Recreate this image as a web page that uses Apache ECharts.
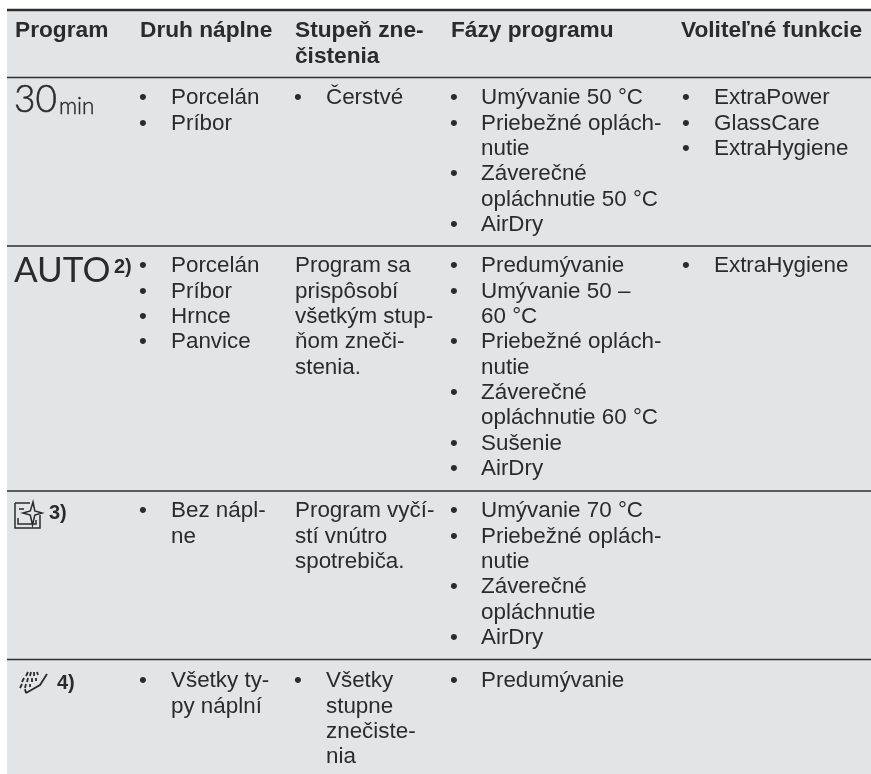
<!DOCTYPE html>
<html><head><meta charset="utf-8">
<style>html,body{margin:0;padding:0;background:#fff}#c{width:871px;height:774px}</style>
<script src="https://cdn.jsdelivr.net/npm/echarts@6/dist/echarts.min.js"></script>
</head><body><div id="c"></div>
<script>
// Table content
const headers = [["Program"],["Druh náplne"],["Stupeň zne-","čistenia"],["Fázy programu"],["Voliteľné funkcie"]];
// Each cell: list of entries; an entry is a bulleted item (array of lines), a plain string is an unbulleted line.
const loads = [
  [["Porcelán"],["Príbor"]],
  [["Porcelán"],["Príbor"],["Hrnce"],["Panvice"]],
  [["Bez nápl-","ne"]],
  [["Všetky ty-","py náplní"]]
];
const soils = [
  [["Čerstvé"]],
  ["Program sa","prispôsobí","všetkým stup-","ňom zneči-","stenia."],
  ["Program vyčí-","stí vnútro","spotrebiča."],
  [["Všetky","stupne","znečiste-","nia"]]
];
const phases = [
  [["Umývanie 50 °C"],["Priebežné oplách-","nutie"],["Záverečné","opláchnutie 50 °C"],["AirDry"]],
  [["Predumývanie"],["Umývanie 50 –","60 °C"],["Priebežné oplách-","nutie"],["Záverečné","opláchnutie 60 °C"],["Sušenie"],["AirDry"]],
  [["Umývanie 70 °C"],["Priebežné oplách-","nutie"],["Záverečné","opláchnutie"],["AirDry"]],
  [["Predumývanie"]]
];
const options = [
  [["ExtraPower"],["GlassCare"],["ExtraHygiene"]],
  [["ExtraHygiene"]],
  [],
  []
];
const footnotes = ["", "2)", "3)", "4)"];

// Layout
const W = 871, H = 774, FONT = '"Liberation Sans", Arial, sans-serif', INK = '#2b2b2b';
const LEFT = 7, TOP = 9.5;
const ruleY = [10, 77.5, 246, 491, 659.5];
const firstLineY = [98, 266, 511, 681];
const PITCH = 25.35, SIZE = 22.4;
const colX = [15, 140, 295, 451, 681], textX = [15, 171, 326, 481, 714], bulletX = [15, 139, 294, 450, 682];

const texts = [];
const put = (x, y, t, o) => texts.push(Object.assign({ value: [x, y], t }, o || {}));
headers.forEach((h, c) => h.forEach((l, i) => put(colX[c], 31 + i * 26, l, { bold: 1, size: 22.7 })));
[loads, soils, phases, options].forEach((col, ci) => {
  const c = ci + 1;
  col.forEach((cell, r) => {
    let n = 0;
    cell.forEach(entry => {
      if (typeof entry === 'string') { put(colX[c], firstLineY[r] + n * PITCH, entry); n++; return; }
      entry.forEach((l, i) => {
        if (i === 0) put(bulletX[c], firstLineY[r] + n * PITCH, '•');
        put(textX[c], firstLineY[r] + n * PITCH, l);
        n++;
      });
    });
  });
});
// Program column labels
const THIN = 'Lato, "Open Sans", sans-serif';
put(14, 100, '30', { font: THIN, size: 37, weight: 300, sw: 0.5 });
put(59, 107, 'min', { font: THIN, size: 22.5, weight: 300, sw: 0.4 });
put(14, 271, 'AUTO', { font: THIN, size: 35, weight: 400 });
put(114, 267, footnotes[1], { bold: 1, size: 20 });
put(49, 513, footnotes[2], { bold: 1, size: 20 });
put(57, 683, footnotes[3], { bold: 1, size: 20 });

// Icon outlines (cleaning box with star, spray arm)
const iconBox = 'M1 1 H16 M1 1 V26 H26 V13 M5 7 H10 M4 16 V22 H22 V18 M19 0 L20.8 9 L28 11 L20.8 13 L18.5 23 L16.3 13 L9 11 L16.3 9 Z';
const iconSpray = 'M8 0 L6 4 M11 0 L10 4 M14 0 L14 4 M17 0 L18 3 M4 6 L2 10 M8 6 L7 10 M12 6 L12 10 M16 6 L16 9 M2 12 L0 16 M6 12 L5 16 M10 12 L10 15 M6 21 L20 13 L27 2 M6 21 L5 17';

const chart = echarts.init(document.getElementById('c'), null, { renderer: 'canvas' });
chart.setOption({
  animation: false,
  backgroundColor: '#ffffff',
  grid: { left: 0, right: 0, top: 0, bottom: 0 },
  xAxis: { type: 'value', min: 0, max: W, show: false },
  yAxis: { type: 'value', min: 0, max: H, inverse: true, show: false },
  series: [
    { type: 'custom', silent: true, coordinateSystem: 'cartesian2d', data: [[LEFT, TOP]], z: 1,
      renderItem: (p, api) => {
        const a = api.coord([api.value(0), api.value(1)]), b = api.coord([W, H]);
        return { type: 'rect', shape: { x: a[0], y: a[1], width: b[0] - a[0], height: b[1] - a[1] }, style: { fill: '#e3e4e6' } };
      } },
    { type: 'custom', silent: true, coordinateSystem: 'cartesian2d', data: ruleY.map((y, i) => [LEFT, y, i === 0 ? 2.6 : 1.7]), z: 2,
      renderItem: (p, api) => {
        const a = api.coord([api.value(0), api.value(1)]), b = api.coord([W, api.value(1)]), t = api.value(2);
        return { type: 'rect', shape: { x: a[0], y: a[1] - t / 2, width: b[0] - a[0], height: t }, style: { fill: '#2e2e2e' } };
      } },
    { type: 'custom', silent: true, coordinateSystem: 'cartesian2d', data: [[15, 502, 27, 26, 0, 1.5], [20, 672, 27, 21, 1, 1.8]], z: 3,
      renderItem: (p, api) => {
        const a = api.coord([api.value(0), api.value(1)]);
        return { type: 'path', shape: { pathData: api.value(4) ? iconSpray : iconBox, x: a[0], y: a[1], width: api.value(2), height: api.value(3) },
          style: { fill: 'none', stroke: '#2b2b2b', lineWidth: api.value(5) } };
      } },
    { type: 'custom', silent: true, coordinateSystem: 'cartesian2d', z: 4, data: texts,
      renderItem: (p, api) => {
        const d = texts[p.dataIndex], a = api.coord(d.value);
        return { type: 'text', x: a[0], y: a[1], style: Object.assign({
          text: d.t, fill: INK, align: 'left', verticalAlign: 'middle',
          font: (d.bold ? 'bold ' : (d.weight ? d.weight + ' ' : '')) + (d.size || SIZE) + 'px ' + (d.font || FONT)
        }, d.sw ? { stroke: INK, lineWidth: d.sw } : {}) };
      } }
  ]
});
</script></body></html>
